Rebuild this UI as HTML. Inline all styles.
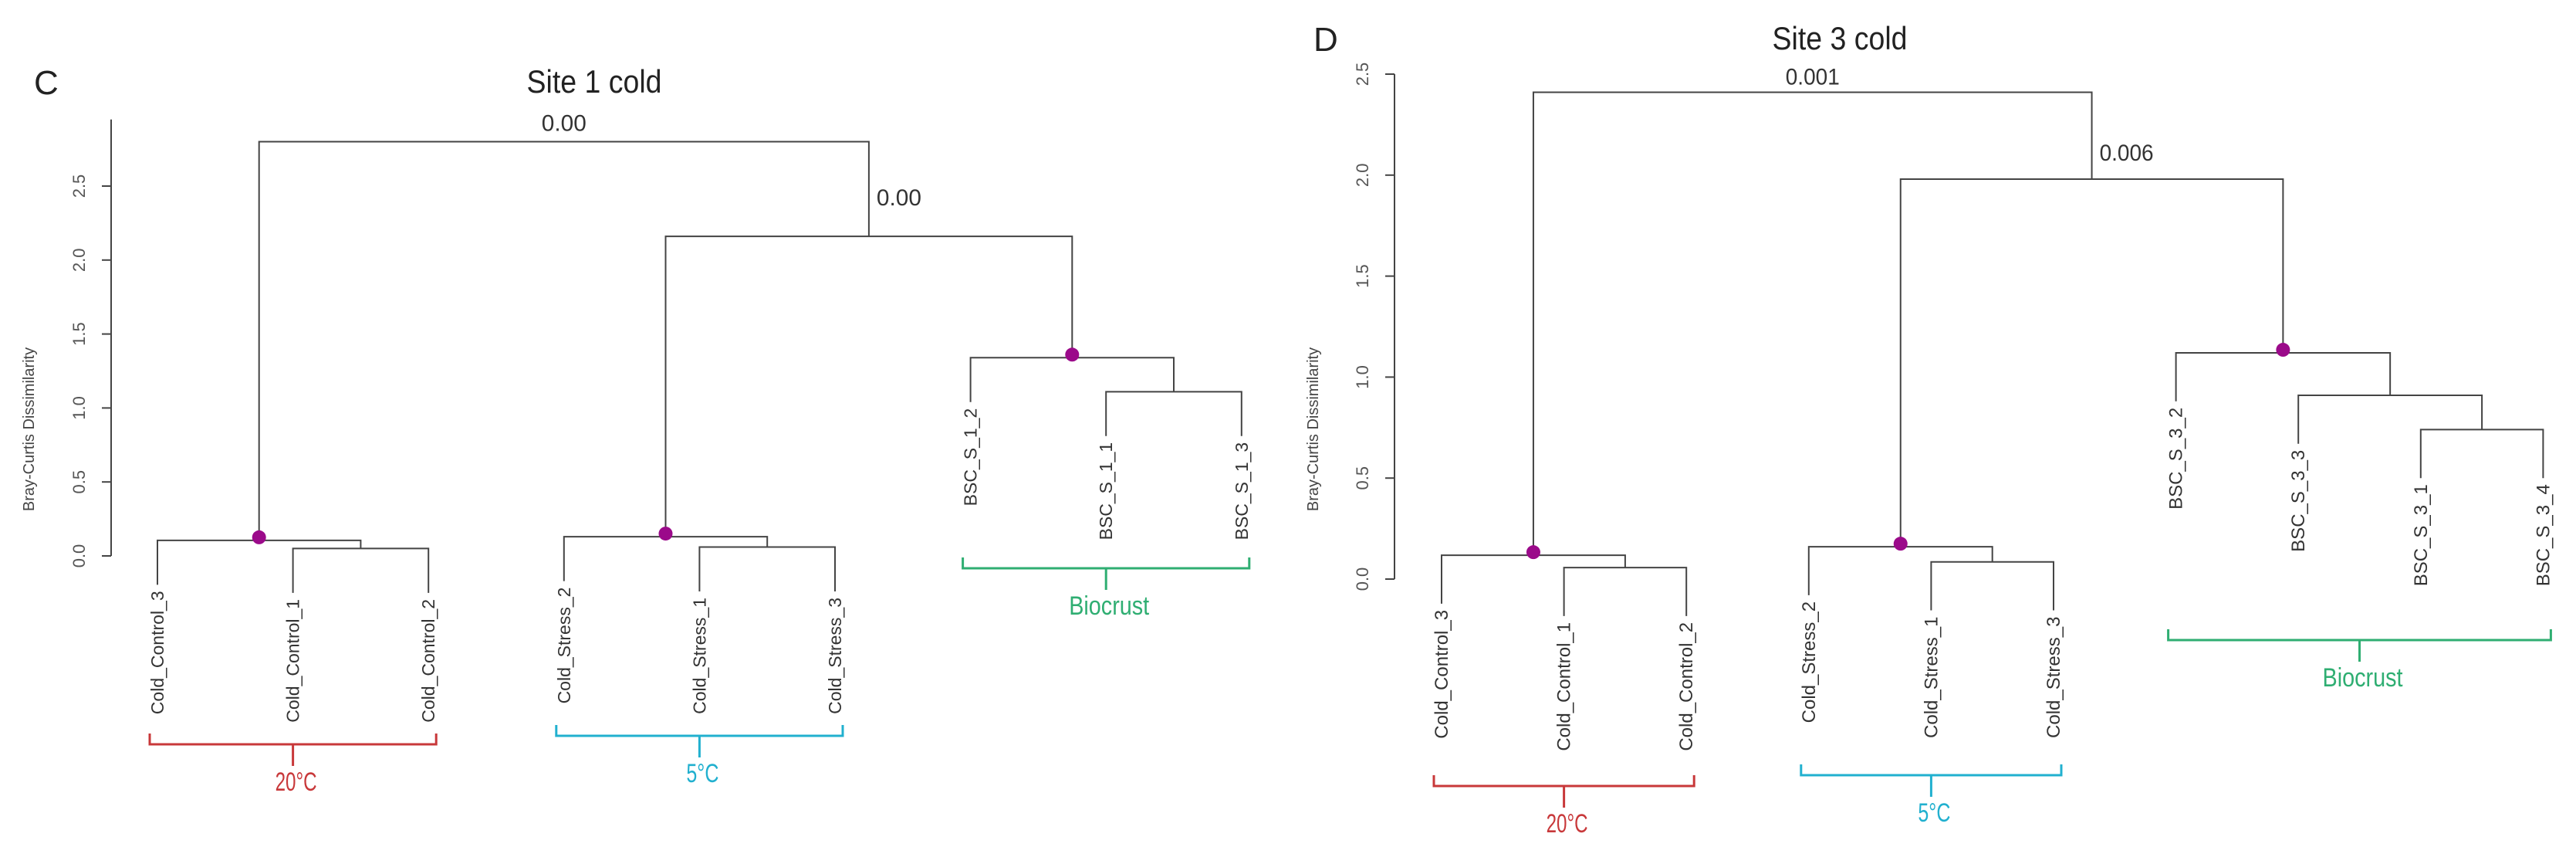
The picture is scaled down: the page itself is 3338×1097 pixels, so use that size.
<!DOCTYPE html>
<html><head><meta charset="utf-8"><style>
html,body{margin:0;padding:0;background:#fff}
svg{display:block}
text{font-family:"Liberation Sans",sans-serif}
</style></head><body>
<svg id="fig" width="3338" height="1097" viewBox="0 0 3338 1097" xmlns="http://www.w3.org/2000/svg"></svg>
<script>
// ---------- Panel C data ----------
const cLeaves = ["Cold_Control_3","Cold_Control_1","Cold_Control_2","Cold_Stress_2","Cold_Stress_1","Cold_Stress_3","BSC_S_1_2","BSC_S_1_1","BSC_S_1_3"];
const cMergeA = ["L1","L0","L4","L3","L7","L6","M3","M1"];
const cMergeB = ["L2","M0","L5","M2","L8","M4","M5","M6"];
const cHeights = [0.05,0.105,0.06,0.13,1.11,1.34,2.16,2.80];
const cTicks = [0,0.5,1.0,1.5,2.0,2.5];
const cTickLabels = ["0.0","0.5","1.0","1.5","2.0","2.5"];
const cDots = [1,3,5];
const cPvals = ["0.00","0.00"];
// ---------- Panel D data ----------
const dLeaves = ["Cold_Control_3","Cold_Control_1","Cold_Control_2","Cold_Stress_2","Cold_Stress_1","Cold_Stress_3","BSC_S_3_2","BSC_S_3_3","BSC_S_3_1","BSC_S_3_4"];
const dMergeA = ["L1","L0","L4","L3","L8","L7","L6","M3","M1"];
const dMergeB = ["L2","M0","L5","M2","L9","M4","M5","M6","M7"];
const dHeights = [0.057,0.118,0.085,0.16,0.74,0.91,1.12,1.98,2.41];
const dTicks = [0,0.5,1.0,1.5,2.0,2.5];
const dTickLabels = ["0.0","0.5","1.0","1.5","2.0","2.5"];
const dDots = [1,3,6];
const dPvals = ["0.001","0.006"];
const groupNames = ["20°C","5°C","Biocrust"];

const NS="http://www.w3.org/2000/svg";
const svg=document.getElementById('fig');
function mk(tag,attrs,parent){const e=document.createElementNS(NS,tag);for(const k in attrs)e.setAttribute(k,attrs[k]);(parent||svg).appendChild(e);return e;}

function drawPanel(cfg){
  const g=mk('g',{});
  
  
  const y=v=>cfg.y0-v*cfg.ppu;
  const x=i=>cfg.x0+i*cfg.dx;
  const L=mk('text',{x:cfg.letterX,y:cfg.letterY,'font-size':44,fill:'#222'},g);L.textContent=cfg.letter;
  
  
  const T=mk('text',{x:cfg.titleX,y:cfg.titleY,'font-size':42,fill:'#222','text-anchor':'middle',textLength:cfg.titleW,lengthAdjust:'spacingAndGlyphs'},g);T.textContent=cfg.title;
  
  
  const ax=mk('g',{},g);
  
  
  mk('line',{x1:cfg.axisX,x2:cfg.axisX,y1:y(0),y2:y(cfg.axisTop),stroke:'#444','stroke-width':2},ax);
  cfg.ticks.forEach((t,i)=>{
    const tk=mk('line',{x1:cfg.axisX-12,x2:cfg.axisX,y1:y(t),y2:y(t),stroke:'#444','stroke-width':2},ax);
    
    
    const tl=mk('text',{x:0,y:0,'font-size':22,fill:'#555','text-anchor':'middle',transform:`translate(${cfg.axisX-34},${y(t)}) rotate(-90)`},ax);
    tl.textContent=cfg.tickLabels[i];
    
    
  });
  const yt=mk('text',{x:0,y:0,'font-size':20,fill:'#444','text-anchor':'middle',transform:`translate(${cfg.ytX},${cfg.ytY}) rotate(-90)`},g);
  yt.textContent='Bray-Curtis Dissimilarity';
  
  
  const nodes={};
  cfg.leaves.forEach((n,i)=>{nodes['L'+i]={x:x(i),h:null};});
  const tree=mk('g',{},g);
  
  
  cfg.heights.forEach((h,i)=>{
    const a=nodes[cfg.mA[i]],b=nodes[cfg.mB[i]];
    const ya=a.h===null?y(h-cfg.hang):y(a.h);
    const yb=b.h===null?y(h-cfg.hang):y(b.h);
    const p=mk('path',{d:`M${a.x},${ya}V${y(h)}H${b.x}V${yb}`,fill:'none',stroke:'#444','stroke-width':2},tree);
    
    
    nodes['M'+i]={x:(a.x+b.x)/2,h:h};
  });
  cfg.dots.forEach(i=>{
    const n=nodes['M'+i];
    const c=mk('circle',{cx:n.x,cy:y(n.h)-4,r:9,fill:'#9b0a8a'},g);
    
    
  });
  const top=nodes['M'+(cfg.heights.length-1)],sec=nodes['M'+(cfg.heights.length-2)];
  const p1=mk('text',{x:top.x,y:y(top.h)-cfg.p1dy,'font-size':30,fill:'#333','text-anchor':'middle',textLength:cfg.pW[0],lengthAdjust:'spacingAndGlyphs'},g);p1.textContent=cfg.pvals[0];
  
  
  const p2=mk('text',{x:sec.x+10,y:y(sec.h)-cfg.p2dy,'font-size':30,fill:'#333',textLength:cfg.pW[1],lengthAdjust:'spacingAndGlyphs'},g);p2.textContent=cfg.pvals[1];
  
  
  cfg.leaves.forEach((n,i)=>{
    let par=0;for(let k=0;k<cfg.heights.length;k++){if(cfg.mA[k]==='L'+i||cfg.mB[k]==='L'+i){par=cfg.heights[k];break;}}
    const t=mk('text',{x:0,y:0,'font-size':cfg.lfs,fill:'#333','text-anchor':'end',transform:`translate(${x(i)+8},${y(par-cfg.hang)+8}) rotate(-90)`},g);
    t.textContent=n;
    
    
  });
  cfg.groups.forEach((gr,k)=>{
    const x1=x(gr[0])-10,x2=x(gr[1])+10,cx=(x1+x2)/2,by=gr[2];
    const b=mk('path',{d:`M${x1},${by-14}V${by}H${x2}V${by-14}M${cx},${by}V${by+28}`,fill:'none',stroke:cfg.colors[k],'stroke-width':3},g);
    
    
    const t=mk('text',{x:cx+4,y:by+60,'font-size':34,fill:cfg.colors[k],'text-anchor':'middle',textLength:cfg.gW[k],lengthAdjust:'spacingAndGlyphs'},g);
    t.textContent=groupNames[k];
    
    
  });
}

drawPanel({name:'panel-c',letter:'C',letterX:44,letterY:122,title:'Site 1 cold',titleX:770,titleY:120,titleW:175,
  leaves:cLeaves,mA:cMergeA,mB:cMergeB,heights:cHeights,ticks:cTicks,tickLabels:cTickLabels,dots:cDots,pvals:cPvals,
  x0:204,dx:175.6,y0:720,ppu:191.6,axisX:144,axisTop:2.95,ytX:44,ytY:556,hang:0.3,lfs:23,p1dy:14,p2dy:40,pW:[58,58],
  groups:[[0,2,964],[3,5,953],[6,8,736]],colors:['#c8383a','#21b0cf','#2fae72'],gW:[54,42,104]});
drawPanel({name:'panel-d',letter:'D',letterX:1702,letterY:66,title:'Site 3 cold',titleX:2384,titleY:64,titleW:175,
  leaves:dLeaves,mA:dMergeA,mB:dMergeB,heights:dHeights,ticks:dTicks,tickLabels:dTickLabels,dots:dDots,pvals:dPvals,
  x0:1868,dx:158.6,y0:750,ppu:261.6,axisX:1807,axisTop:2.5,ytX:1708,ytY:556,hang:0.24,lfs:24,p1dy:10,p2dy:24,pW:[70,70],
  groups:[[0,2,1018],[3,5,1004],[6,9,829]],colors:['#c8383a','#21b0cf','#2fae72'],gW:[54,42,104]});
</script>
</body></html>
